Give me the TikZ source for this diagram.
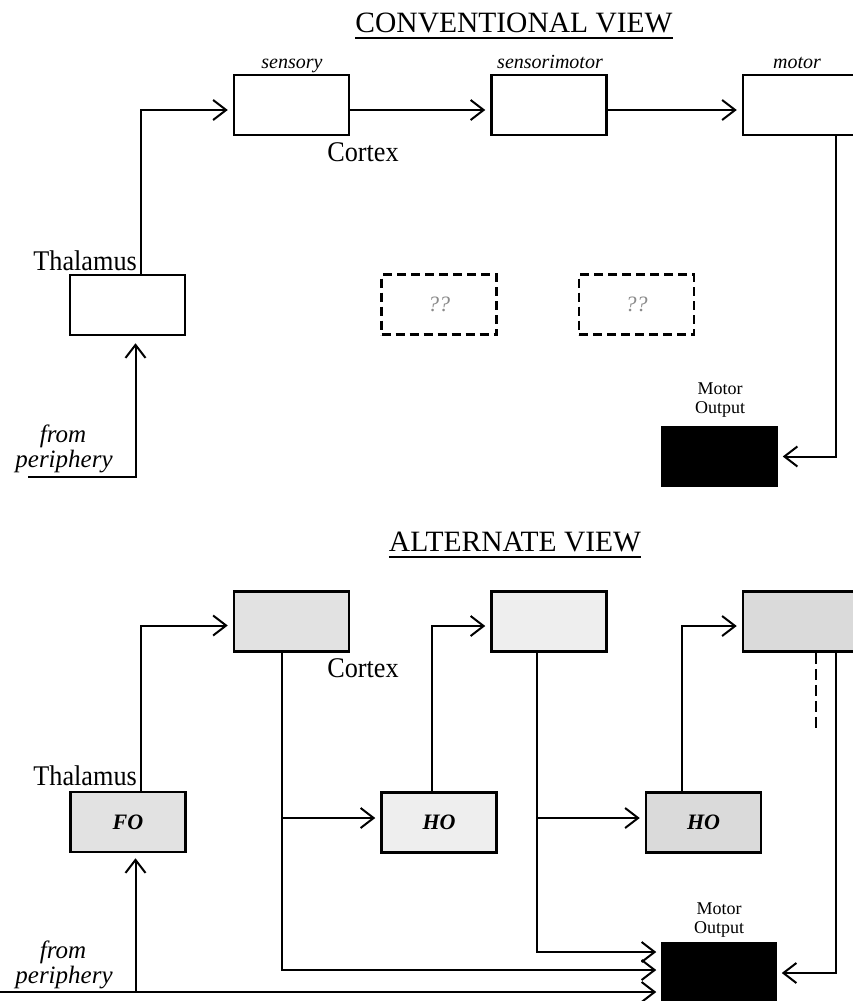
\documentclass[tikz,border=0pt]{standalone}
\usepackage{fontspec}
\setmainfont{Liberation Serif}
\newfontfamily\condfont{Liberation Serif}[FakeStretch=0.92]
\usetikzlibrary{arrows.meta}
\definecolor{gA}{HTML}{E2E2E2}
\definecolor{gB}{HTML}{EEEEEE}
\definecolor{gC}{HTML}{DADADA}
\definecolor{qgray}{HTML}{8A8A8A}
\newcommand{\fs}[1]{\fontsize{#1}{#1}\selectfont}
\tikzset{
  box/.style={draw, line width=2.5pt, minimum width=115pt, minimum height=60pt, inner sep=0pt},
  dbox/.style={box, dash pattern=on 9pt off 5pt},
  arr/.style={-{Straight Barb[length=13pt,width=20pt]}, line width=2pt, shorten >=5pt},
  ln/.style={line width=2pt},
  title/.style={anchor=base, inner sep=0pt, font=\fs{29.5}},
  small/.style={anchor=base, inner sep=0pt, font=\fs{20}\itshape},
  big/.style={anchor=base, inner sep=0pt, font=\condfont\fs{28.5}},
  peri/.style={anchor=base, inner sep=0pt, font=\fs{25}\itshape},
  mlab/.style={anchor=base, inner sep=0pt, font=\fs{18}},
  holab/.style={font=\fs{22}\bfseries\itshape},
  qlab/.style={font=\fs{22}\itshape, text=qgray}
}
\begin{document}
\begin{tikzpicture}[x=1pt,y=-1pt]
\useasboundingbox (0,0) rectangle (853,1001);
\clip (0,0) rectangle (853,1001);
% ---------- CONVENTIONAL VIEW ----------
\node[title] (t1) at (514,32) {CONVENTIONAL VIEW};
\draw[line width=2pt] ([yshift=-6pt]t1.base west) -- ([yshift=-6pt]t1.base east);
\node[box] (sens) at (291.5,105) {};
\node[box] (smot) at (549,105) {};
\node[box] (mot) at (800.5,105) {};
\node[small] (lsens) at (292,68) {sensory};
\node[small] (lsmot) at (550,68) {sensorimotor};
\node[small] (lmot) at (797,68) {motor};
\node[big] (cx1) at (363,161) {Cortex};
\node[box] (thal) at (127.5,305) {};
\node[big, anchor=base east] (th1) at (137,270) {Thalamus};
\node[dbox] (d1) at (439,304.5) {};
\node[dbox] (d2) at (636.5,304.5) {};
\node[qlab] (q1) at (d1) {??};
\node[qlab] (q2) at (d2) {??};
\node[box, fill=black, minimum width=114pt, minimum height=59pt] (mo1) at (719.5,456.5) {};
\node[mlab] (mo1a) at (720,394) {Motor};
\node[mlab] (mo1b) at (720,413) {Output};
\node[peri] (fr1) at (63,442) {from};
\node[peri] (pe1) at (64,467) {periphery};
\coordinate (p1) at (28,477);
\draw[arr] ([xshift=13.5pt]thal.north) |- ([yshift=-5pt]sens.west);
\draw[arr] ([yshift=-5pt]sens.east) -- ([yshift=-5pt]smot.west);
\draw[arr] ([yshift=-5pt]smot.east) -- ([yshift=-5pt]mot.west);
\draw[arr] ([xshift=35.5pt]mot.south) |- (mo1.east);
\draw[arr, shorten >=7pt] (p1) -| ([xshift=8pt]thal.south);
% ---------- ALTERNATE VIEW ----------
\node[title] (t2) at (515,551.5) {ALTERNATE VIEW};
\draw[line width=2pt] ([yshift=-5pt]t2.base west) -- ([yshift=-5pt]t2.base east);
\node[box, fill=gA] (c1) at (291.5,621.5) {};
\node[box, fill=gB] (c2) at (549,621.5) {};
\node[box, fill=gC] (c3) at (800.5,621.5) {};
\node[big] (cx2) at (363,677) {Cortex};
\node[box, fill=gA] (fo) at (128,822) {};
\node[holab] (lfo) at (fo) {FO};
\node[box, fill=gB] (ho1) at (439,822.5) {};
\node[holab] (lho1) at (ho1) {HO};
\node[box, fill=gC] (ho2) at (703.5,822.5) {};
\node[holab] (lho2) at (ho2) {HO};
\node[big, anchor=base east] (th2) at (137,785) {Thalamus};
\node[box, fill=black, minimum width=113pt, minimum height=58pt] (mo2) at (719,972) {};
\node[mlab] (mo2a) at (719,914) {Motor};
\node[mlab] (mo2b) at (719,933) {Output};
\node[peri] (fr2) at (63,958) {from};
\node[peri] (pe2) at (64,983) {periphery};
\coordinate (p2) at (0,992);
\coordinate (p3) at (135.5,992);
\coordinate (b1) at (282,818);
\coordinate (b2) at (537,818);
\draw[arr] ([xshift=13pt]fo.north) |- ([yshift=-4pt]c1.west);
\draw[arr] ([xshift=-7pt]ho1.north) |- ([yshift=-4.5pt]c2.west);
\draw[arr] ([xshift=-21.5pt]ho2.north) |- ([yshift=-4.5pt]c3.west);
\draw[arr] ([xshift=-9.5pt]c1.south) |- ([yshift=2pt]mo2.west);
\draw[arr] (b1) -- ([yshift=4.5pt]ho1.west);
\draw[arr] ([xshift=-12pt]c2.south) |- ([yshift=20pt]mo2.west);
\draw[arr] (b2) -- ([yshift=4.5pt]ho2.west);
\draw[arr] ([xshift=35pt]c3.south) |- ([yshift=-1pt]mo2.east);
\draw[ln, dash pattern=on 11pt off 5pt] ([xshift=15.5pt]c3.south) -- ++(0,80);
\draw[arr] (p2) -- ([yshift=-20pt]mo2.west);
\draw[arr] (p3) -- ([xshift=7.5pt]fo.south);
\end{tikzpicture}
\end{document}
